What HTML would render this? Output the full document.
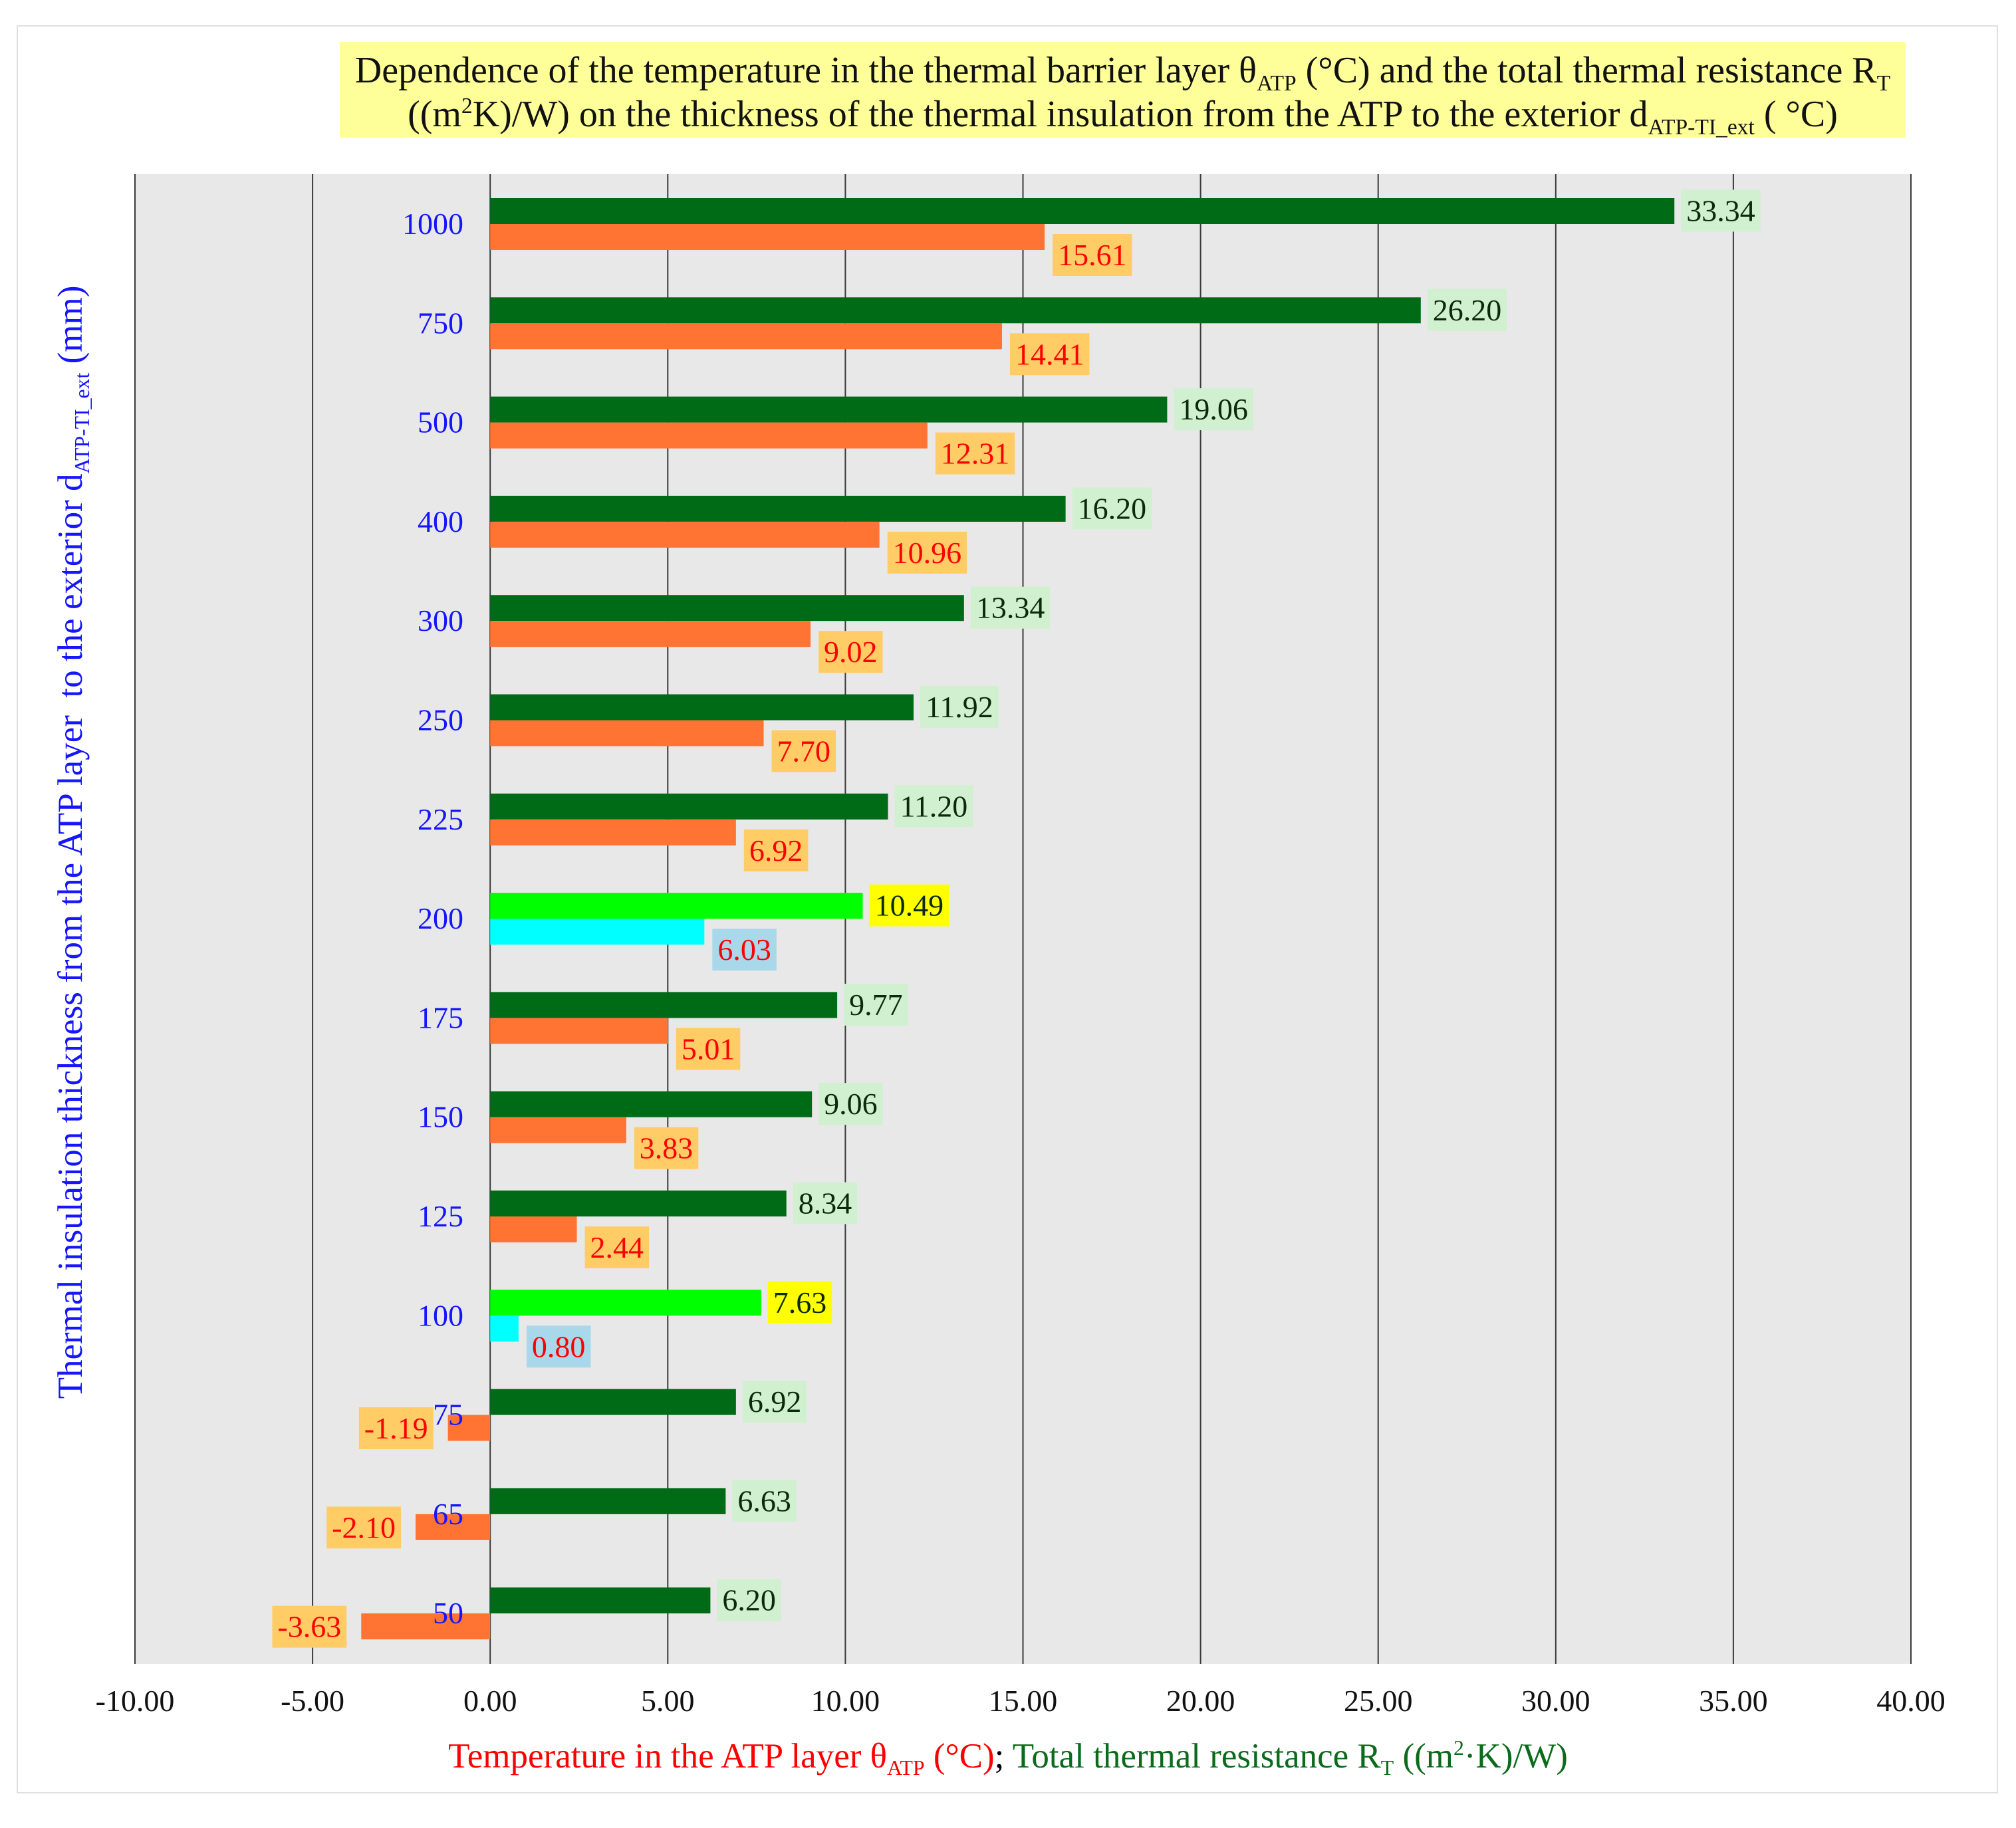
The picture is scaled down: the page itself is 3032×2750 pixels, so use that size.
<!DOCTYPE html>
<html><head><meta charset="utf-8"><style>
body{margin:0;background:#fff;}
#wrap{position:relative;width:3032px;height:2750px;overflow:hidden;font-family:"Liberation Serif",serif;}
#frame{position:absolute;left:25px;top:38px;width:2980px;height:2660px;border:2px solid #e0e0e0;box-sizing:border-box;}
#title{position:absolute;left:511px;top:63px;width:2355px;height:144px;background:#ffff99;text-align:center;font-size:56px;line-height:66px;color:#111;padding-top:10px;box-sizing:border-box;white-space:nowrap;}
sub{font-size:60%;vertical-align:-0.35em;line-height:0}
sup{font-size:60%;vertical-align:0.6em;line-height:0}
#xtitle{position:absolute;left:0;width:3032px;top:2612px;text-align:center;font-size:53px;}
#ytitle{position:absolute;left:106px;top:1267px;transform:translate(-50%,-50%) rotate(-90deg);white-space:nowrap;font-size:53px;color:#1515ff;}
svg{position:absolute;left:0;top:0;}
</style></head><body>
<div id="wrap">
<div id="frame"></div>
<div id="title">Dependence of the temperature in the thermal barrier layer θ<sub>ATP</sub> (°C) and the total thermal resistance R<sub>T</sub><br>((m<sup>2</sup>K)/W) on the thickness of the thermal insulation from the ATP to the exterior d<sub>ATP-TI_ext</sub> ( °C)</div>
<svg id="chart" width="3032" height="2750"></svg>
<div id="xtitle"><span style="color:#ff0000">Temperature in the ATP layer θ<sub>ATP</sub> (°C)</span>; <span style="color:#0b6b1b">Total thermal resistance R<sub>T</sub> ((m<sup>2</sup>·K)/W)</span></div>
<div id="ytitle">Thermal insulation thickness from the ATP layer&nbsp; to the exterior d<sub>ATP-TI_ext</sub> (mm)</div>
</div>
<script>
const categories=["1000","750","500","400","300","250","225","200","175","150","125","100","75","65","50"];
const resistance=[33.34,26.20,19.06,16.20,13.34,11.92,11.20,10.49,9.77,9.06,8.34,7.63,6.92,6.63,6.20];
const temperature=[15.61,14.41,12.31,10.96,9.02,7.70,6.92,6.03,5.01,3.83,2.44,0.80,-1.19,-2.10,-3.63];
const highlighted=["200","100"];
const xTicks=[-10,-5,0,5,10,15,20,25,30,35,40];

const svg=document.getElementById('chart');
const NS='http://www.w3.org/2000/svg';
const X0=203,X1=2874,XMIN=-10,XMAX=40,TOP=262,BOT=2503,C0=337,STEP=149.3,BH=39,FS=46,PAD=8;
const x=v=>X0+(v-XMIN)/(XMAX-XMIN)*(X1-X0);
const yc=i=>C0+i*STEP;
function mk(t,a,p){const e=document.createElementNS(NS,t);for(const k in a)e.setAttribute(k,a[k]);(p||svg).appendChild(e);return e;}

const bg=mk('rect',{x:X0,y:TOP,width:X1-X0,height:BOT-TOP,fill:'#e8e8e8'});


xTicks.forEach(t=>{
  const l=mk('line',{x1:x(t),x2:x(t),y1:TOP,y2:BOT,stroke:'#3a3a3a','stroke-width':2});
  
  
  const tx=mk('text',{x:x(t),y:2574,'text-anchor':'middle','font-size':46,fill:'#111','font-family':'Liberation Serif, serif'});
  tx.textContent=t.toFixed(2);
  
  
});

categories.forEach((c,i)=>{
  const hi=highlighted.includes(c);
  const cy=yc(i);
  const r=resistance[i];
  const g=mk('rect',{x:x(0),y:cy-BH,width:x(r)-x(0),height:BH,fill:hi?'#00ff00':'#006b16'});
  
  
  const gb=mk('rect',{x:x(r)+10,y:cy-BH/2-32,width:100,height:63,fill:hi?'#ffff00':'#d0f0d0'});
  
  
  const gt=mk('text',{x:x(r)+10+PAD,y:cy-BH/2+15,'font-size':FS,fill:'#0a2a0a','font-family':'Liberation Serif, serif'});
  gt.textContent=r.toFixed(2);
  
  
  gb.setAttribute('width',gt.getComputedTextLength()+2*PAD);

  const t=temperature[i];
  const o=mk('rect',{x:Math.min(x(0),x(t)),y:cy,width:Math.abs(x(t)-x(0)),height:BH,fill:hi?'#00ffff':'#ff7433'});
  
  
  const ob=mk('rect',{x:0,y:0,width:100,height:63,fill:hi?'#a8d8ea':'#ffcc66'});
  
  
  const ot=mk('text',{x:0,y:0,'font-size':FS,fill:'#ff0000','font-family':'Liberation Serif, serif'});
  ot.textContent=t.toFixed(2);
  
  
  const w=ot.getComputedTextLength()+2*PAD;
  let bx,by;
  if(t>=0){bx=x(t)+12;by=cy+15;}else{bx=x(t)-22-w;by=cy+BH/2-31;}
  ob.setAttribute('x',bx);ob.setAttribute('y',by);ob.setAttribute('width',w);
  ot.setAttribute('x',bx+PAD);ot.setAttribute('y',by+47);

  const cl=mk('text',{x:697,y:cy+15,'text-anchor':'end','font-size':46,fill:'#1515ff','font-family':'Liberation Serif, serif'});
  cl.textContent=c;
  
  
});
</script>
</body></html>
